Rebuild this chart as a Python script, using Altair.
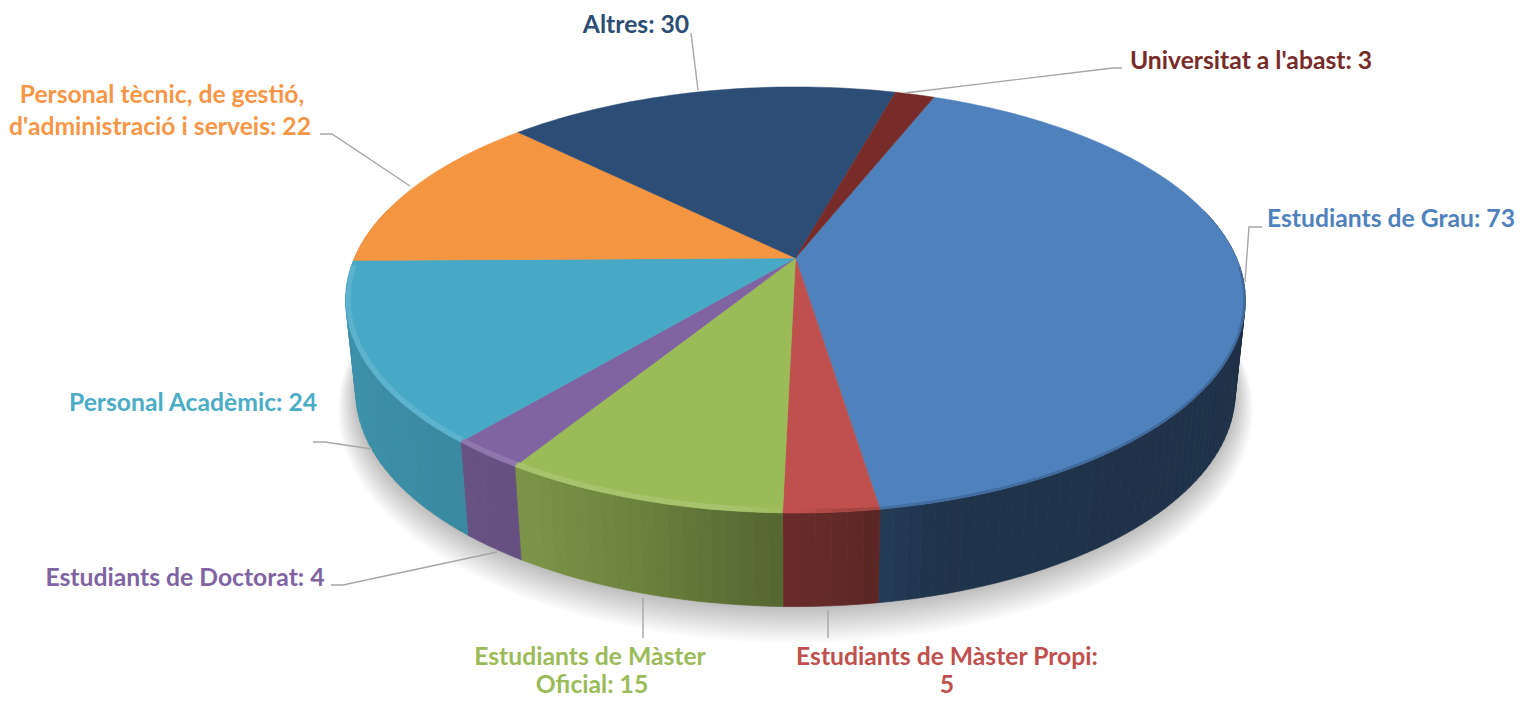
import math
import altair as alt
import pandas as pd

# ---- data ----
CATEGORIES = ["Estudiants de Grau", "Estudiants de Màster Propi", "Estudiants de Màster Oficial",
              "Estudiants de Doctorat", "Personal Acadèmic",
              "Personal tècnic, de gestió, d'administració i serveis", "Altres", "Universitat a l'abast"]
VALUES = [73, 5, 15, 4, 24, 22, 30, 3]

# ---- styling / layout ----
COLORS = ["#4f81bd", "#c0504d", "#9bbb59", "#8064a2", "#47a9c6", "#f49542", "#2c4d75", "#772c2a"]
TEXT_COLORS = ["#4f81bd", "#c0504d", "#9bbb59", "#8064a2", "#4bacc6", "#f79646", "#2c4d75", "#772c2a"]
LABEL_LINES = [
    [("Estudiants de Grau: 73", 1391, 220)],
    [("Estudiants de Màster Propi:", 947, 658), ("5", 947, 686)],
    [("Estudiants de Màster", 590, 658), ("Oficial: 15", 592, 686)],
    [("Estudiants de Doctorat: 4", 185, 579)],
    [("Personal Acadèmic: 24", 193, 404)],
    [("Personal tècnic, de gestió,", 162, 96), ("d'administració i serveis: 22", 160, 128)],
    [("Altres: 30", 636, 26)],
    [("Universitat a l'abast: 3", 1251, 62)],
]
LEADERS = [
    [(1262, 227), (1249, 227), (1245, 282)],
    [(828, 610), (828, 638)],
    [(643, 598), (643, 638)],
    [(331, 585), (343, 585), (497, 552)],
    [(313, 442), (325, 442), (372, 449)],
    [(320, 134), (332, 134), (410, 186)],
    [(691, 33), (698, 90)],
    [(1122, 68), (1113, 68), (905, 93)],
]

# perspective disc
CX, K = 795.5, 0.197
TOP = dict(py=258.0, A=441.0, B=204.8)
BOT = dict(py=350.0, A=431.0, B=206.0)
START = 68.2


def project(theta, g, e=0.0, dy=0.0):
    s, c = math.sin(math.radians(theta)), math.cos(math.radians(theta))
    w = 1 + K * s
    return CX + (g["A"] + e) * c / w, g["py"] + dy - (g["B"] + e) * s / w


def mix(hex_color, f):
    rgb = [int(hex_color[i:i + 2], 16) for i in (1, 3, 5)]
    if f <= 1:
        out = [v * f for v in rgb]
    else:
        out = [v + (255 - v) * (f - 1) for v in rgb]
    return "#%02x%02x%02x" % tuple(int(round(v)) for v in out)


def lerp(x, pts):
    for (x0, y0), (x1, y1) in zip(pts, pts[1:]):
        if x <= x1:
            return y0 + (y1 - y0) * (x - x0) / (x1 - x0)
    return pts[-1][1]


WALL = [(-1.0, 0.86), (-0.5, 0.79), (-0.3, 0.70), (-0.1, 0.58), (0.1, 0.50), (0.25, 0.40), (1.0, 0.38)]
RIM = [(-1.0, 1.16), (-0.1, 1.16), (0.0, 1.0), (0.1, 0.8), (1.0, 0.75)]
RIM_W = [(-1.0, 5.0), (0.0, 4.0), (0.15, 2.0), (1.0, 2.0)]

total = sum(VALUES)
spans = []
a = START
for v in VALUES:
    b = a - 360.0 * v / total
    spans.append((a, b))
    a = b

top_rows, wall_rows, rim_rows, shadow_rows = [], [], [], []
pid = 0


def add(rows, pts, col):
    global pid
    pid += 1
    for i, (x, y) in enumerate(pts):
        rows.append({"x": x, "y": y, "poly": pid, "i": i, "col": col})


for col, (a, b) in zip(COLORS, spans):
    n = max(3, int(abs(a - b) / 1.5))
    arc = [a + (b - a) * j / n for j in range(n + 1)]
    py = (CX, TOP["py"])
    add(top_rows, [py] + [project(t, TOP) for t in arc] + [py], col)
    for t0, t1 in zip(arc, arc[1:]):
        tm = (t0 + t1) / 2
        sn = math.sin(math.radians(tm))
        xn = math.cos(math.radians(tm))
        if sn < 0.25:
            p = [project(t0, TOP), project(t1, TOP), project(t1, BOT), project(t0, BOT), project(t0, TOP)]
            add(wall_rows, p, mix(col, lerp(xn, WALL)))
        if sn < -0.05:
            e = -lerp(xn, RIM_W)
            r = [project(t0, TOP), project(t1, TOP), project(t1, TOP, e), project(t0, TOP, e), project(t0, TOP)]
            add(rim_rows, r, mix(col, lerp(xn, RIM)))

for t in range(1, 17):
    pts = [project(th * 3, BOT, e=1.1 * t, dy=0.9 * t) for th in range(121)]
    add(shadow_rows, pts, "#000000")

lead_rows = []
for k, pts in enumerate(LEADERS):
    for i, (x, y) in enumerate(pts):
        lead_rows.append({"x": x, "y": y, "poly": k, "i": i})

text_rows = []
for col, lines in zip(TEXT_COLORS, LABEL_LINES):
    for txt, x, y in lines:
        text_rows.append({"x": x, "y": y, "t": txt, "col": col})

X = alt.X("x:Q", scale=alt.Scale(domain=[8, 1515]), axis=None)
Y = alt.Y("y:Q", scale=alt.Scale(domain=[698, 8]), axis=None)


def polys(rows, opacity=1.0, sw=0.7):
    return alt.Chart(pd.DataFrame(rows)).mark_line(
        filled=True, strokeWidth=sw, opacity=opacity, clip=False, interpolate="linear"
    ).encode(
        x=X, y=Y, detail="poly:N", order="i:Q",
        fill=alt.Fill("col:N", scale=None), stroke=alt.Stroke("col:N", scale=None),
    )


shadow = polys(shadow_rows, opacity=0.016, sw=0)
walls = polys(wall_rows)
tops = polys(top_rows, sw=0.5)
rims = polys(rim_rows, opacity=0.75, sw=0)

leaders = alt.Chart(pd.DataFrame(lead_rows)).mark_line(color="#a6a6a6", strokeWidth=1.4).encode(
    x=X, y=Y, detail="poly:N", order="i:Q"
)
labels = alt.Chart(pd.DataFrame(text_rows)).mark_text(
    font="Lato", fontWeight="bold", fontSize=24.7, baseline="middle", align="center"
).encode(x=X, y=Y, text="t:N", color=alt.Color("col:N", scale=None))

chart = alt.layer(shadow, walls, tops, rims, leaders, labels).properties(
    width=1507, height=690, padding=0, autosize=alt.AutoSizeParams(type="none")
).configure_view(stroke=None)

chart.save("out.html", embed_options={"renderer": "svg", "actions": False})
